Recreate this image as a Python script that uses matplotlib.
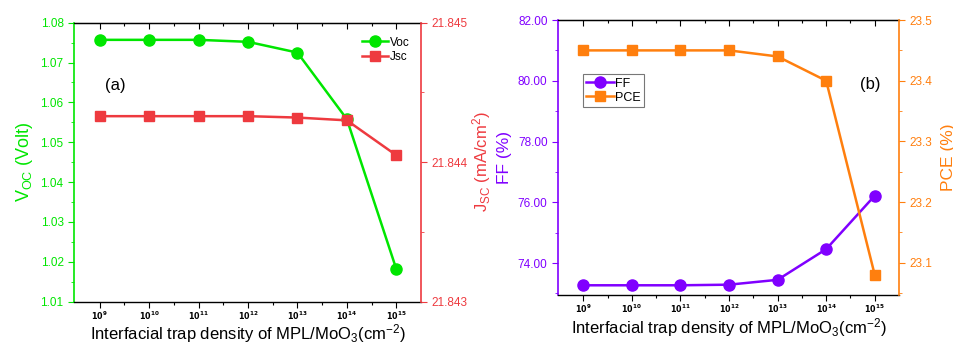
import numpy as np
import matplotlib.pyplot as plt
from matplotlib.ticker import MultipleLocator, FixedLocator

plt.rcParams["font.family"] = ["Liberation Sans", "DejaVu Sans"]
plt.rcParams["mathtext.default"] = "regular"

# trap density: 10^9 ... 10^15 cm^-2
exponents = [9, 10, 11, 12, 13, 14, 15]
tick_labels = [r"$\mathbf{10^{%d}}$" % e for e in exponents]

voc = [1.0757, 1.0757, 1.0757, 1.0752, 1.0725, 1.0558, 1.0182]
jsc = [21.84433, 21.84433, 21.84433, 21.84433, 21.84432, 21.84430, 21.84405]
ff = [73.27, 73.27, 73.27, 73.29, 73.45, 74.46, 76.22]
pce = [23.45, 23.45, 23.45, 23.45, 23.44, 23.40, 23.08]

green = "#00e600"
red = "#ee3a3f"
purple = "#8000ff"
orange = "#ff7f0e"

x = np.arange(len(exponents))

fig = plt.figure(figsize=(9.54, 3.45), dpi=100)
ax1 = fig.add_axes([0.0776, 0.1255, 0.3637, 0.8087])
ax3 = fig.add_axes([0.5849, 0.1449, 0.3575, 0.797])


def style_x(ax, label_y):
    ax.set_xlim(-0.52, 6.5)
    ax.set_xticks(x)
    ax.set_xticklabels(tick_labels, fontsize=5.8)
    ax.xaxis.set_minor_locator(FixedLocator(x[:-1] + 0.5))
    ax.tick_params(axis="x", which="major", direction="out", length=4, width=0.8, pad=1.5)
    ax.tick_params(axis="x", which="minor", direction="out", length=2, width=0.8)
    top = ax.secondary_xaxis("top")
    top.set_xticks(x)
    top.set_xticklabels([])
    top.xaxis.set_minor_locator(FixedLocator(x[:-1] + 0.5))
    top.tick_params(axis="x", which="major", direction="in", length=4, width=0.8)
    top.tick_params(axis="x", which="minor", direction="in", length=2, width=0.8)
    top.spines["top"].set_linewidth(1.0)
    ax.spines["bottom"].set_linewidth(1.0)
    ax.set_xlabel(r"Interfacial trap density of MPL/MoO$_3$(cm$^{-2}$)", fontsize=12)
    ax.xaxis.set_label_coords(0.5, label_y)


def color_y(ax, side, color):
    ax.spines[side].set_color(color)
    ax.spines[side].set_linewidth(1.2)
    ax.tick_params(axis="y", which="both", colors=color, direction="out")
    ax.tick_params(axis="y", which="major", length=4, labelsize=8.5)
    ax.tick_params(axis="y", which="minor", length=2)


# (a) Voc and Jsc
ax2 = ax1.twinx()
l1, = ax1.plot(x, voc, "-o", color=green, lw=1.8, ms=8, label="Voc")
l2, = ax2.plot(x, jsc, "-s", color=red, lw=1.8, ms=7, label="Jsc")
style_x(ax1, -0.072)
ax1.set_ylim(1.01, 1.08)
ax1.yaxis.set_major_locator(MultipleLocator(0.01))
ax1.yaxis.set_minor_locator(MultipleLocator(0.005))
ax1.yaxis.set_major_formatter(plt.FormatStrFormatter("%.2f"))
ax2.set_ylim(21.843, 21.845)
ax2.yaxis.set_major_locator(MultipleLocator(0.001))
ax2.yaxis.set_minor_locator(MultipleLocator(0.0005))
ax2.yaxis.set_major_formatter(plt.FormatStrFormatter("%.3f"))
color_y(ax1, "left", green)
color_y(ax2, "right", red)
for s in ("left", "top", "bottom"):
    ax2.spines[s].set_visible(False)
ax1.spines["right"].set_visible(False)
ax1.set_ylabel(r"V$_{OC}$ (Volt)", color=green, fontsize=13, labelpad=4)
ax2.set_ylabel(r"J$_{SC}$ (mA/cm$^2$)", color=red, fontsize=12, labelpad=2)
ax1.text(0.09, 0.76, "(a)", transform=ax1.transAxes, fontsize=12)
ax2.legend([l1, l2], ["Voc", "Jsc"], loc="upper right", frameon=False,
           fontsize=8.5, handlelength=2.2, borderaxespad=0.3,
           handletextpad=0.1, labelspacing=0.2, bbox_to_anchor=(0.99, 0.98))

# (b) FF and PCE
ax4 = ax3.twinx()
l3, = ax3.plot(x, ff, "-o", color=purple, lw=1.8, ms=8, label="FF")
l4, = ax4.plot(x, pce, "-s", color=orange, lw=1.8, ms=7, label="PCE")
style_x(ax3, -0.076)
ax3.set_ylim(72.95, 82)
ax3.yaxis.set_major_locator(MultipleLocator(2))
ax3.yaxis.set_minor_locator(MultipleLocator(1))
ax3.yaxis.set_major_formatter(plt.FormatStrFormatter("%.2f"))
ax4.set_ylim(23.047, 23.5)
ax4.yaxis.set_major_locator(MultipleLocator(0.1))
ax4.yaxis.set_minor_locator(MultipleLocator(0.05))
ax4.yaxis.set_major_formatter(plt.FormatStrFormatter("%.1f"))
color_y(ax3, "left", purple)
color_y(ax4, "right", orange)
for s in ("left", "top", "bottom"):
    ax4.spines[s].set_visible(False)
ax3.spines["right"].set_visible(False)
ax3.set_ylabel("FF (%)", color=purple, fontsize=12.5, labelpad=4)
ax4.set_ylabel("PCE (%)", color=orange, fontsize=12.5, labelpad=6)
ax4.text(0.885, 0.75, "(b)", transform=ax4.transAxes, fontsize=12)
leg = ax4.legend([l3, l4], ["FF", "PCE"], loc="upper left", fancybox=False,
                 fontsize=9, handlelength=2.2, handletextpad=0.1,
                 labelspacing=0.15, borderpad=0.3, borderaxespad=0,
                 bbox_to_anchor=(0.072, 0.804))
leg.get_frame().set_edgecolor("#555555")
leg.get_frame().set_linewidth(0.8)

fig.savefig("out.png", dpi=100)
